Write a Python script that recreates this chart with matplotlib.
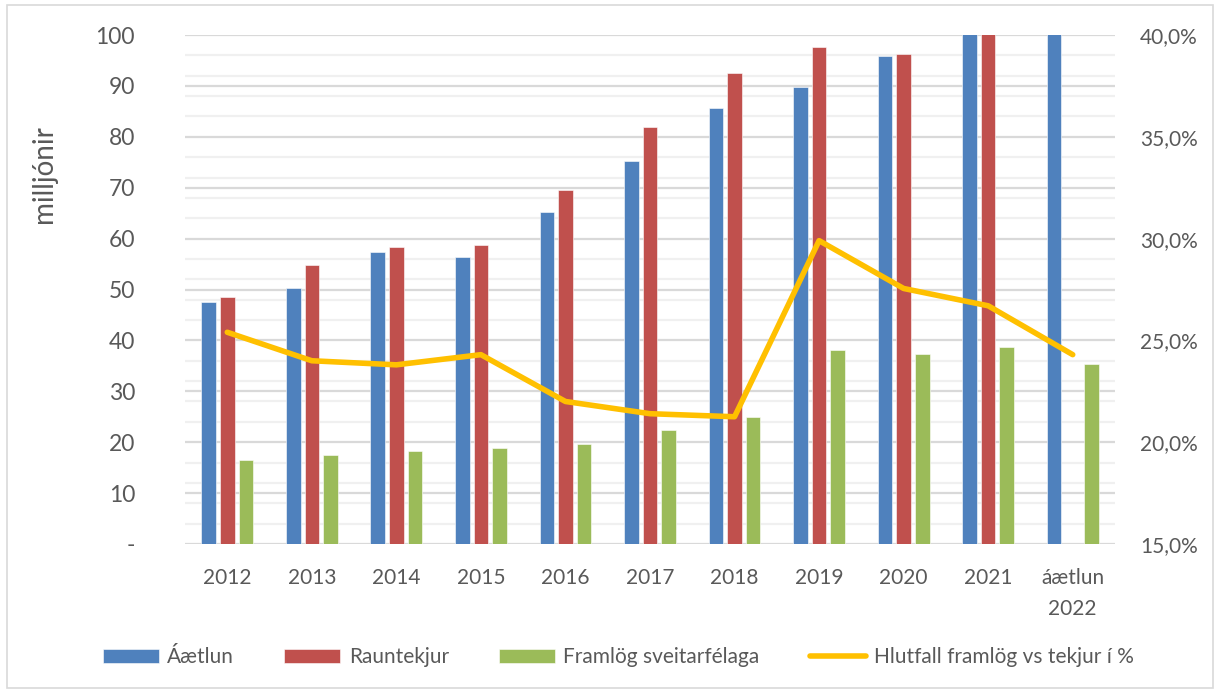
import numpy as np
import matplotlib
matplotlib.use("Agg")
import matplotlib.pyplot as plt
from matplotlib.ticker import MultipleLocator, FuncFormatter
from matplotlib.patches import Rectangle

# data
categories = ["2012", "2013", "2014", "2015", "2016", "2017", "2018",
              "2019", "2020", "2021", "áætlun\n2022"]
aaetlun = [47.6, 50.3, 57.3, 56.4, 65.2, 75.2, 85.7, 89.7, 95.8, 104.0, 110.0]
rauntekjur = [48.6, 54.9, 58.3, 58.7, 69.6, 81.9, 92.6, 97.6, 96.2, 106.0, np.nan]
framlog = [16.6, 17.4, 18.3, 18.9, 19.6, 22.3, 25.0, 38.2, 37.3, 38.7, 35.4]
hlutfall = [25.4, 24.0, 23.8, 24.3, 22.0, 21.4, 21.25, 29.9, 27.55, 26.7, 24.3]

series_labels = ["Áætlun", "Rauntekjur", "Framlög sveitarfélaga",
                 "Hlutfall framlög vs tekjur í %"]
colors = ["#4F81BD", "#C0504D", "#9BBB59", "#FFC000"]
text_color = "#595959"

plt.rcParams['font.family'] = ['Lato', 'DejaVu Sans']

fig = plt.figure(figsize=(12.15, 6.91), dpi=100)
ax = fig.add_axes([185 / 1215, 1 - 544 / 691, 930 / 1215, 509 / 691])
ax2 = ax.twinx()

x = np.arange(len(categories))
width = 0.173
offset = 0.22
bar_sets = [aaetlun, rauntekjur, framlog]
handles = []
for i, vals in enumerate(bar_sets):
    b = ax.bar(x + (i - 1) * offset, vals, width, color=colors[i],
               edgecolor="white", linewidth=0.4, zorder=3, label=series_labels[i])
    handles.append(b)

line, = ax2.plot(x, hlutfall, color=colors[3], linewidth=4.0,
                 solid_joinstyle="round", solid_capstyle="round",
                 label=series_labels[3], zorder=4)
handles.append(line)

ax.set_xlim(-0.5, len(categories) - 0.5)
ax.set_ylim(0, 100)
ax2.set_ylim(15, 40)

# gridlines: left major every 10, right axis 1% steps (4 units on left axis)
ax.yaxis.set_major_locator(MultipleLocator(10))
ax.yaxis.set_minor_locator(MultipleLocator(4))
ax.grid(axis="y", which="minor", color="#F0F0F0", linewidth=1.6, zorder=0)
ax.grid(axis="y", which="major", color="#D9D9D9", linewidth=1.6, zorder=1)
ax.set_axisbelow(True)

ax.yaxis.set_major_formatter(FuncFormatter(lambda v, p: "-" if v == 0 else "%d" % v))
ax2.yaxis.set_major_locator(MultipleLocator(5))
ax2.yaxis.set_major_formatter(FuncFormatter(lambda v, p: ("%.1f%%" % v).replace(".", ",")))

ax.set_xticks(x)
ax.set_xticklabels(categories, linespacing=1.7)

for a in (ax, ax2):
    for s in a.spines.values():
        s.set_visible(False)
ax.tick_params(axis="y", which="both", length=0, labelsize=16.5, colors=text_color, pad=36)
ax.tick_params(axis="x", length=0, labelsize=15, colors=text_color, pad=17)
ax2.tick_params(axis="y", length=0, labelsize=15, colors=text_color, pad=18)

ax.set_ylabel("milljónir", fontsize=20, color=text_color)
ax.yaxis.set_label_coords(-0.138, 0.727)

fig.legend(handles, series_labels, loc="center", bbox_to_anchor=(0.509, 1 - 657 / 691),
           ncol=4, frameon=False, fontsize=15, labelcolor=text_color,
           handlelength=2.7, handleheight=0.65, handletextpad=0.4, columnspacing=2.4)

# light chart-area border
fig.patches.append(Rectangle((7 / 1215, 3 / 691), 1206 / 1215, 683 / 691,
                             transform=fig.transFigure, fill=False,
                             edgecolor="#D9D9D9", linewidth=1.2))

fig.savefig("out.png", dpi=100)
